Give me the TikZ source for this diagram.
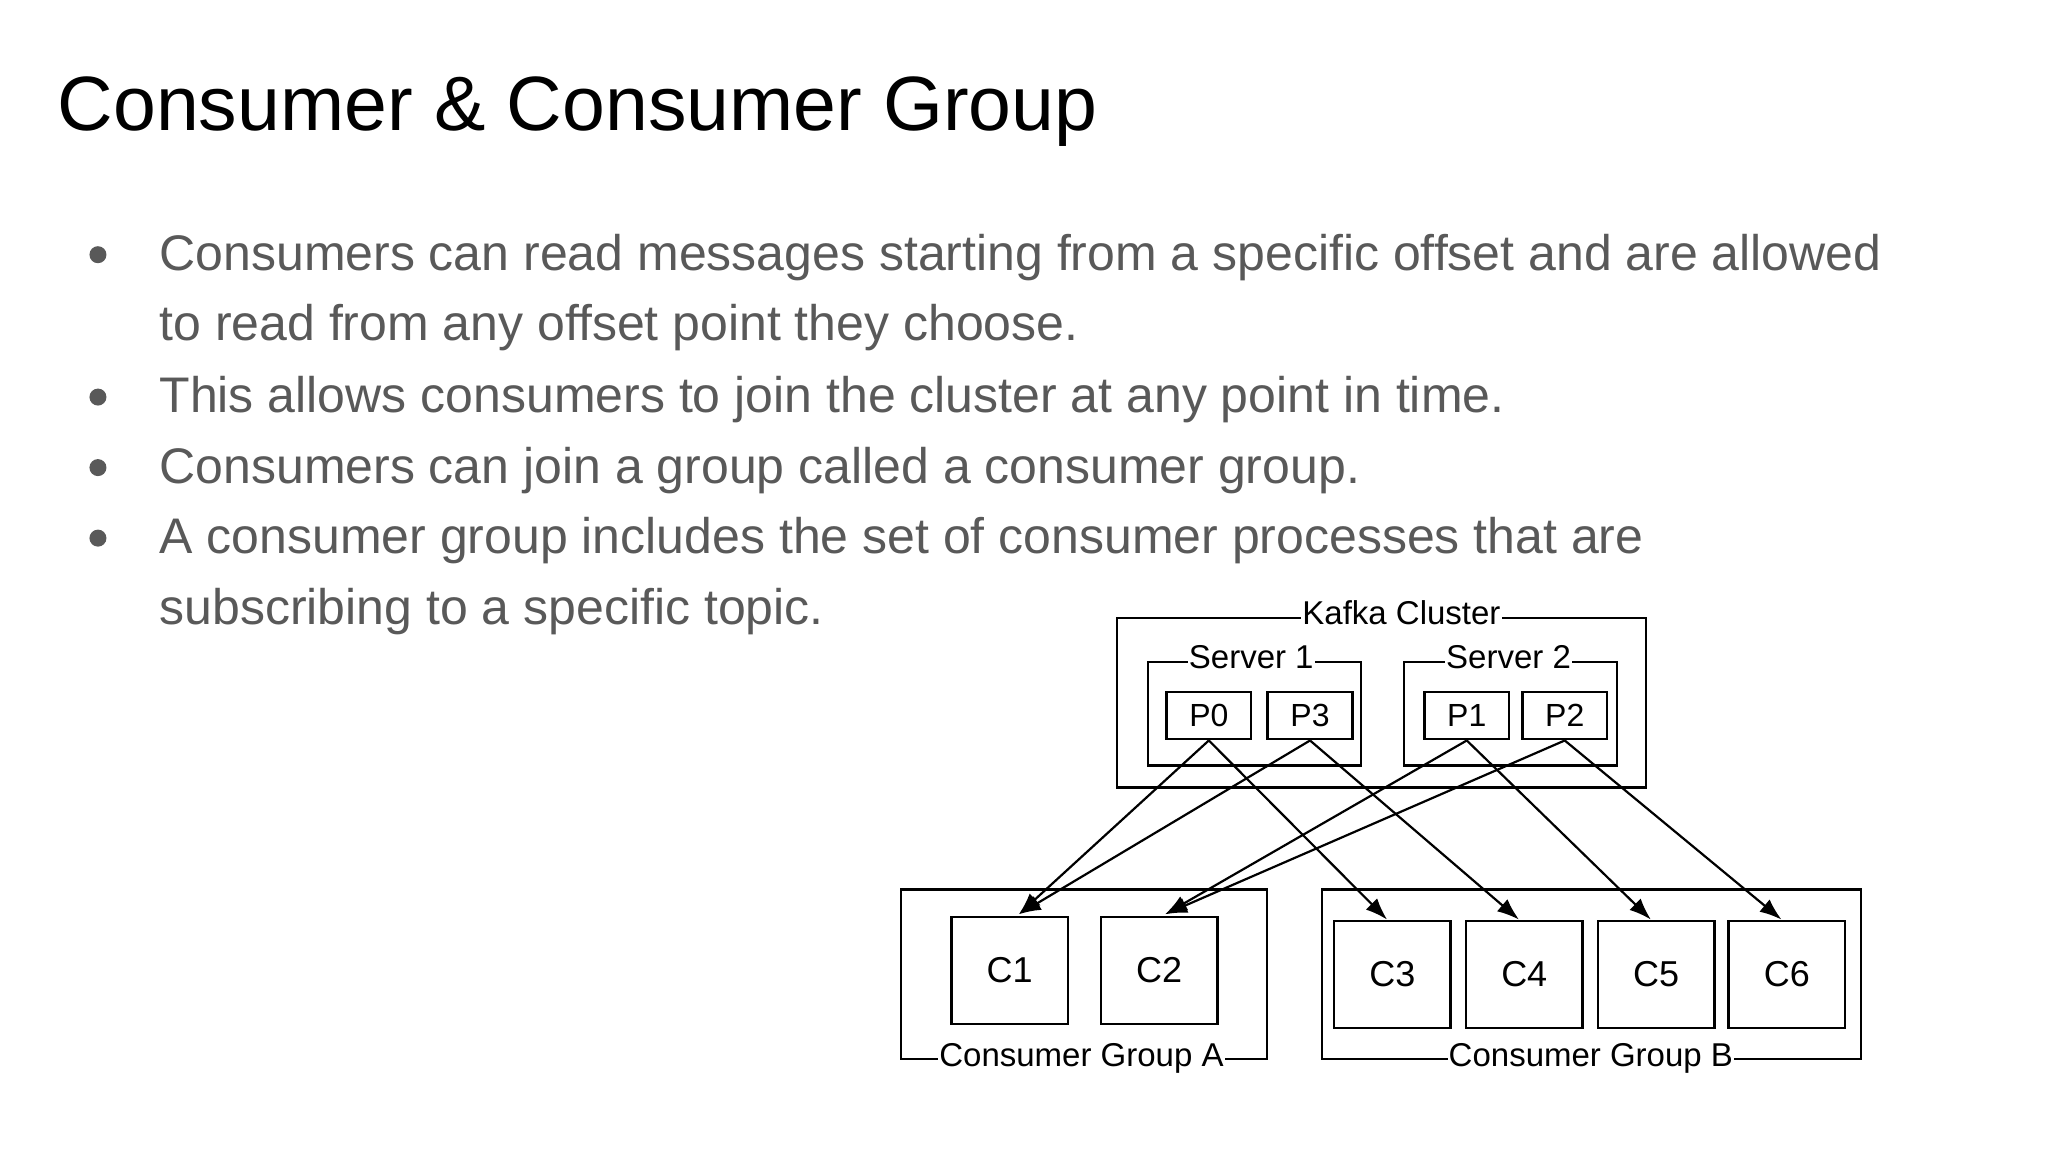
\documentclass[tikz,border=0pt]{standalone}
\usepackage{fontspec}
\setmainfont{Liberation Sans}
\usetikzlibrary{arrows.meta,calc}
\begin{document}
\begin{tikzpicture}[x=1.30612pt,y=-1.30612pt,
  box/.style={draw,line width=2.4pt},
  part/.style={draw,line width=2.4pt,minimum width=65*1.30612pt,minimum height=36*1.30612pt,inner sep=0pt,font=\fontsize{32}{36}\selectfont},
  cons/.style={draw,line width=2.4pt,minimum width=89*1.30612pt,minimum height=82*1.30612pt,inner sep=0pt,font=\fontsize{36}{40}\selectfont},
  lbl/.style={fill=white,inner sep=1pt,font=\fontsize{33}{36}\selectfont},
  arr/.style={line width=2.2pt,-{Latex[length=22pt,width=16pt]}},
  body/.style={anchor=base west,inner sep=0pt,text=black!65,font=\fontsize{50}{60}\selectfont},
  bul/.style={circle,fill=black!65,inner sep=0pt,minimum size=17pt}]
\useasboundingbox (0,0) rectangle (1568,882);
\fill[white] (0,0) rectangle (1568,882);
\node[anchor=base west,inner sep=0pt,font=\fontsize{77}{90}\selectfont] (title) at (44,100) {Consumer \& Consumer Group};
\node[bul] (b1) at (75,195) {};
\node[body] (t1) at (122,207) {Consumers can read messages starting from a specific offset and are allowed};
\node[body] (t1b) at (122,261) {to read from any offset point they choose.};
\node[bul] (b2) at (75,304) {};
\node[body] (t2) at (122,316) {This allows consumers to join the cluster at any point in time.};
\node[bul] (b3) at (75,358) {};
\node[body] (t3) at (122,370) {Consumers can join a group called a consumer group.};
\node[bul] (b4) at (75,412) {};
\node[body] (t4) at (122,424) {A consumer group includes the set of consumer processes that are};
\node[body] (t4b) at (122,478) {subscribing to a specific topic.};
% boxes
\draw[box] (855,473) rectangle (1260,603);
\node[lbl] (kc) at (1073,469) {Kafka Cluster};
\draw[box] (879,507) rectangle (1042,586);
\node[lbl] (s1) at (958,503) {Server 1};
\draw[box] (1075,507) rectangle (1238,586);
\node[lbl] (s2) at (1155,503) {Server 2};
\node[part] (p0) at (925.5,548) {P0};
\node[part] (p3) at (1003,548) {P3};
\node[part] (p1) at (1123,548) {P1};
\node[part] (p2) at (1198,548) {P2};
\draw[box] (690,681) rectangle (970,811);
\node[lbl] (ga) at (828,810) {Consumer Group A};
\draw[box] (1012,681) rectangle (1425,811);
\node[lbl] (gb) at (1218,810) {Consumer Group B};
\node[cons] (c1) at (773,743) {C1};
\node[cons] (c2) at (887.5,743) {C2};
\node[cons] (c3) at (1066,746) {C3};
\node[cons] (c4) at (1167,746) {C4};
\node[cons] (c5) at (1268,746) {C5};
\node[cons] (c6) at (1368,746) {C6};
\coordinate (e1) at (780,700);
\coordinate (e2) at (892,700);
\draw[arr] (p0.south) -- (e1);
\draw[arr] (p3.south) -- (e1);
\draw[arr] (p1.south) -- (e2);
\draw[arr] (p2.south) -- (e2);
\draw[arr] (p0.south) -- ($(c3.north)+(-4,0)$);
\draw[arr] (p3.south) -- ($(c4.north)+(-4,0)$);
\draw[arr] (p1.south) -- ($(c5.north)+(-4,0)$);
\draw[arr] (p2.south) -- ($(c6.north)+(-4,0)$);
\end{tikzpicture}
\end{document}
